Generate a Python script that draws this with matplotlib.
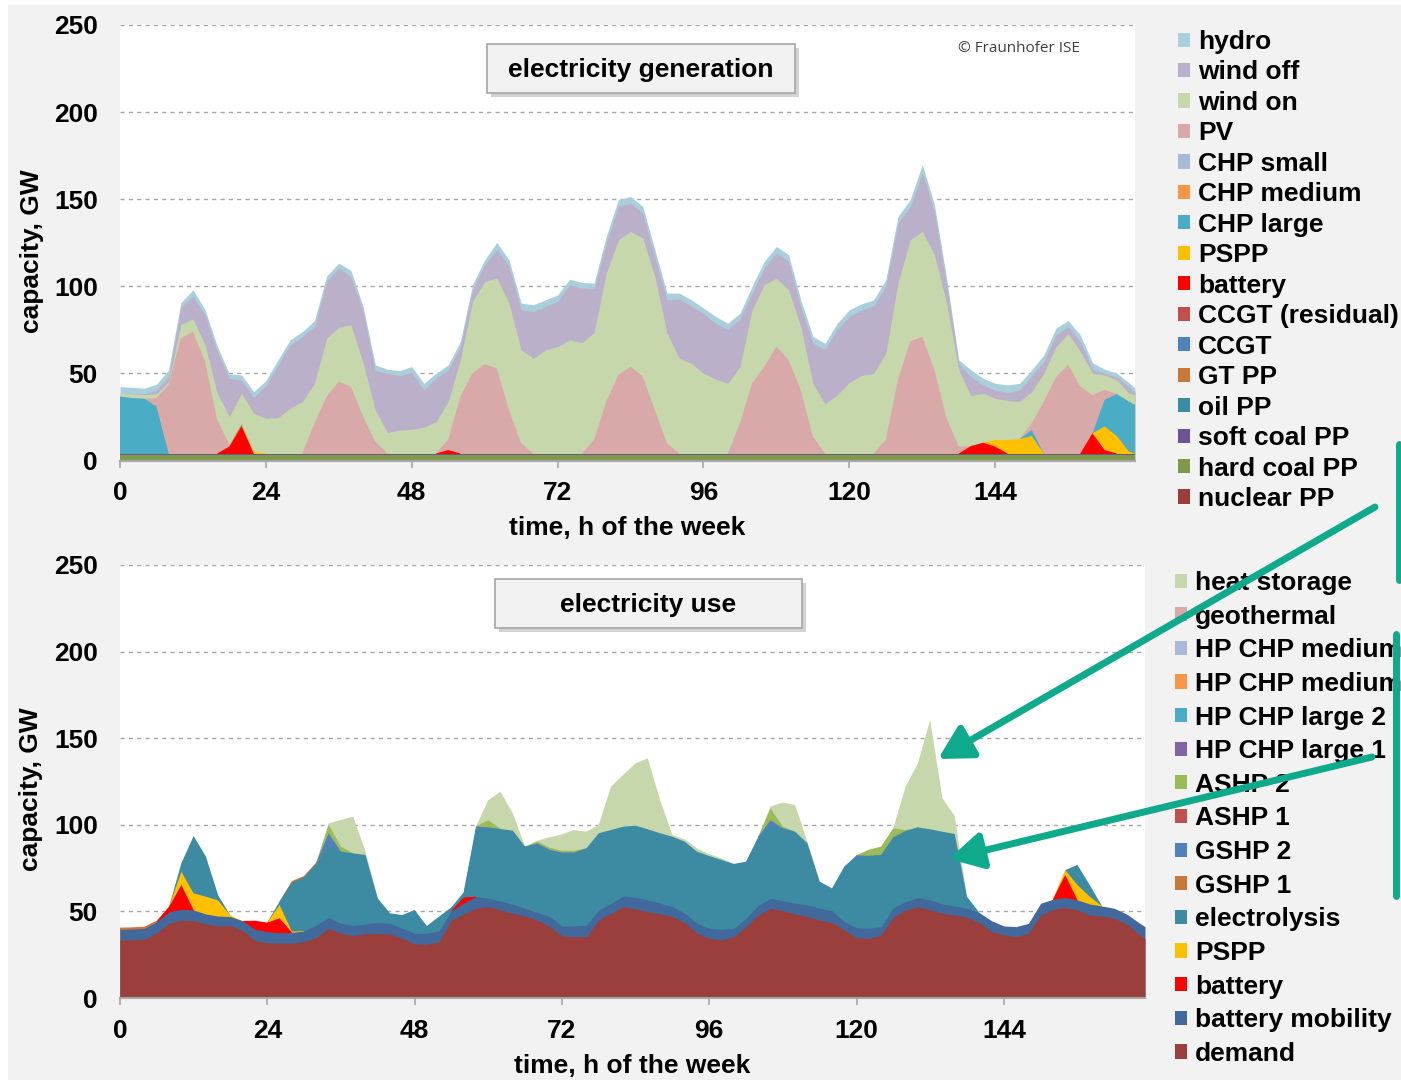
import numpy as np
import matplotlib.pyplot as plt
from matplotlib.patches import Patch, Rectangle, FancyArrowPatch
from matplotlib.lines import Line2D

plt.rcParams['font.family'] = ['Liberation Sans', 'DejaVu Sans']

W, H = 1401, 1080

# hour of the week (2 h steps, last point at hour 167)
hours = np.array(list(range(0, 168, 2)) + [167])

# ---- electricity generation, GW ----
hard_coal_gw = 3.0
soft_coal_gw = 1.0

pv = [0, 0, 0, 4.8, 39.4, 66, 70, 52.8, 19.3, 1,
      0, 0, 0, 0, 0, 0, 17.4, 32.7, 41.3, 38.4,
      21.2, 6.8, 0, 0, 0, 0, 0, 6, 32.7, 46.1,
      51.3, 49, 25, 5.9, 0, 0, 0, 0, 0, 7.8,
      29.8, 45.1, 49.9, 44.2, 25, 5.9, 0, 0, 0, 0,
      0, 17.4, 40.3, 49.9, 61.4, 53.8, 36.5, 9.7, 0, 0,
      0, 0, 0, 7.8, 42.3, 64.3, 67.2, 48, 20.2, 4,
      0, 0, 0, 0, 0, 3.9, 29.8, 43.8, 50.9, 38.4,
      22, 5.7, 0, 0, 0]

wind_on = [1.9, 2.3, 2.3, 2.5, 1.9, 8, 7.3, 9.6, 15.3, 16.2,
           17.8, 22.1, 20.2, 20.6, 26, 29.8, 22.9, 33.5, 31.2, 35.5,
           30.7, 18.2, 12, 13.5, 13.9, 15.1, 18.3, 21.8, 21.1, 41.2,
           47.4, 51.7, 61.3, 53.6, 54.7, 59.5, 61.4, 65.3, 63.7, 61.7,
           73.8, 77.6, 77.6, 79.5, 76.6, 63.2, 54.7, 51.8, 46.1, 42.7,
           40.3, 32.5, 42.2, 47, 39.3, 40.2, 36.4, 30.6, 28.5, 33.6,
           40.9, 44.8, 46.1, 49.8, 55.5, 58.4, 60.3, 66.1, 66.1, 44,
           28.8, 28.4, 23.9, 22.6, 21.6, 18.1, 16.3, 17.6, 17.8, 20.2,
           12.5, 8.6, 8.1, 4.8, 5.7]

wind_off = [0, 0, 0.5, 2, 2.9, 10, 12.9, 17.2, 24, 22,
            7.3, 9.2, 18.6, 30.3, 36.4, 37.4, 32.6, 32.6, 33.9, 27.7,
            29.6, 22.6, 34.1, 31.1, 32.6, 21.4, 24.9, 18.2, 7.6, 6.7,
            9.6, 16.3, 21.1, 23, 26.8, 24.9, 25.9, 31.6, 31.3, 24.9,
            17.2, 19.2, 16.3, 14.3, 11.5, 19.1, 33.9, 33, 34.1, 32.1,
            31.1, 27.2, 9.6, 9.5, 14.4, 16.3, 11.5, 23, 31.4, 37.4,
            37.8, 37.7, 38.7, 38.3, 34.5, 19, 33.6, 24.9, 10.6, 3.5,
            11.1, 4.8, 4.8, 4.6, 6.7, 9.1, 6.7, 6.7, 4.2, 5.7,
            2.3, 1, 1.5, 3.8, 1.5]

hydro = [3.8, 3.8, 3.2, 3.5, 3.8, 2.5, 3.8, 2.9, 3, 2.5,
         3.2, 3.2, 3.1, 2.9, 2.9, 2.8, 3.5, 3.2, 2.9, 3.5,
         2.9, 3.3, 2.3, 3, 3.4, 3.8, 2.9, 2.9, 2.9, 2.9,
         2.9, 4.2, 3.8, 3.8, 3.9, 3.8, 3.8, 3.2, 3.2, 3.4,
         3.8, 3.8, 3.8, 3.9, 3.9, 3.9, 3.5, 3.4, 3.3, 3.9,
         3.4, 3.5, 3.9, 3.9, 3.8, 3.8, 3.8, 3.9, 3.4, 3.8,
         3.8, 3.4, 3.4, 3.8, 3.8, 3.9, 4.8, 3.8, 3.8, 2.3,
         3.8, 3.8, 3.8, 4.4, 3.8, 3.4, 3.8, 3.9, 3.5, 3.8,
         3.8, 2.3, 2.3, 2.3, 2.4]

# short events, hour: GW
chp_large = {0: 32.7, 2: 31.9, 4: 31.5, 6: 27, 20: 0.5, 150: 3.4,
             162: 15.3, 164: 24.1, 166: 28.7, 167: 27.9}
pspp_gen = {20: 0.5, 22: 1, 144: 3.8, 146: 7.8, 148: 8.2, 150: 10.1,
            162: 13.5, 164: 10.1, 166: 1.1}
battery_gen = {18: 4, 20: 15.8, 54: 2, 140: 4.3, 142: 6.2, 144: 4,
               160: 11.6, 162: 2}

# ---- electricity use, GW ----
demand = [33.5, 33.5, 33.9, 37.7, 43.1, 45, 44.6, 42.7, 41.6, 41.8,
          38.9, 33.1, 31.9, 31.6, 31.6, 32.5, 35, 40.2, 37.3, 36,
          37, 37.3, 37, 34.4, 31.2, 31, 32.5, 45, 48.5, 51.8,
          52.7, 50.8, 48.9, 47.3, 45, 41.2, 35.8, 35.4, 35.4, 45,
          48.9, 52.7, 51.4, 49.8, 48.5, 47, 43.5, 37.3, 34.4, 33.5,
          35.4, 41.2, 47.9, 51.8, 50.4, 48.5, 47, 45, 43.5, 39.3,
          34.8, 34.4, 36.4, 46.6, 50.8, 52.7, 50.8, 48.9, 47.9, 46.6,
          43.5, 38.3, 36.4, 35.4, 37.3, 47.9, 51.2, 52.3, 50.8, 47.9,
          47.3, 46, 42.7, 36.8, 34.4]

battery_mobility = [6.1, 6.3, 6.3, 6.4, 6.7, 6.2, 6.2, 5.8, 5.7, 5.2,
                    5.6, 6.5, 6.4, 6.1, 6.3, 6.2, 7.1, 6.2, 5.8, 6,
                    5.7, 6.2, 6.1, 5.8, 6.1, 6.3, 6.4, 5.4, 6.5, 6.7,
                    5, 5.2, 5.2, 4.5, 4.3, 5.8, 5.8, 6.2, 6.7, 5.8,
                    5.8, 6.2, 6.7, 6.8, 6.2, 5.7, 5.4, 5.8, 5.8, 6.1,
                    4.8, 4.8, 5.8, 5.7, 5.8, 6.2, 6.7, 6.8, 6.9, 4.8,
                    5.8, 5.8, 4.8, 5.7, 4.8, 5.4, 5.8, 5.4, 5.2, 5.2,
                    5.8, 6.3, 5.2, 5.8, 5.8, 6.8, 5.8, 5.8, 5.8, 6.4,
                    5.8, 5.8, 5.8, 6.7, 6.8]

electrolysis = [0, 0, 0, 0, 0, 4.9, 33.1, 23.1, 3, 0,
                0, 0, 0, 2, 28.3, 31, 35.7, 41, 41.4, 41.5,
                39.9, 14, 5.8, 7.7, 13.5, 4.3, 8.1, 2, 3, 38.5,
                40.8, 41.6, 42.5, 35.6, 39, 38.1, 41.9, 41.9, 44.3, 44.3,
                42.3, 40, 41.4, 40.8, 40.4, 40.4, 41.4, 41.4, 41.8, 40.1,
                37.2, 32.7, 39.4, 41.4, 41.8, 41.3, 35.6, 15.4, 12.9, 31.7,
                40.6, 41.4, 41.4, 40.5, 40.8, 40.4, 40.8, 41.7, 41.6, 6.7,
                0, 0, 0, 0, 0, 0, 0, 0, 11.6, 6.7,
                0, 0, 0, 0, 0]

battery_use = {8: 2.9, 10: 14, 22: 5, 24: 5.2, 26: 8.3, 56: 3, 154: 12.9}
pspp_use = {10: 7.7, 12: 9.6, 14: 10, 16: 9, 18: 0.5, 26: 7.7, 28: 0.5,
            154: 2.9, 156: 8.6, 158: 4.2}
gshp1 = {0: 1, 2: 1, 4: 1, 6: 0.6, 28: 0.8, 30: 0.8, 32: 0.5}
gshp2 = {34: 7.7, 58: 2, 68: 1, 70: 0.5, 72: 0.5, 74: 0.5, 106: 3.8,
         120: 1.2, 122: 0.5}
ashp2 = {34: 4.8, 36: 2.9, 60: 4.2, 68: 1, 70: 1.2, 72: 1, 74: 1, 106: 6.7,
         108: 1, 122: 3.5, 124: 4.8, 126: 5.2, 128: 0.5}
heat_storage = {34: 0.9, 36: 15.4, 38: 21.2, 40: 2, 60: 11.5, 62: 21.5,
                64: 10, 68: 0.5, 70: 6, 72: 9.5, 74: 12, 76: 9.6, 78: 4.8,
                80: 25, 82: 29.9, 84: 36, 86: 41, 88: 19.2, 90: 1, 92: 1.3,
                94: 1.9, 96: 1.1, 98: 0.9, 106: 1.3, 108: 13.8, 110: 15.4,
                112: 1, 128: 25.1, 130: 37, 132: 63.1, 134: 19.3, 136: 10.4}


def series(values):
    if isinstance(values, dict):
        return np.array([values.get(h, 0.0) for h in hours], dtype=float)
    return np.asarray(values, dtype=float)


none = {}

# stacking order: bottom first
gen_layers = [
    ('nuclear PP', none, '#9B3E3B'),
    ('hard coal PP', {h: hard_coal_gw for h in hours}, '#7F9B4A'),
    ('soft coal PP', {h: soft_coal_gw for h in hours}, '#6D5391'),
    ('oil PP', none, '#3A8CA3'),
    ('GT PP', none, '#C8793A'),
    ('CCGT', none, '#4F81BD'),
    ('CCGT (residual)', none, '#C0504D'),
    ('battery', battery_gen, '#FF0000'),
    ('PSPP', pspp_gen, '#FFC000'),
    ('CHP large', chp_large, '#4BACC6'),
    ('CHP medium', none, '#F79646'),
    ('CHP small', none, '#A8BAD8'),
    ('PV', pv, '#D9A9A9'),
    ('wind on', wind_on, '#C6D7AC'),
    ('wind off', wind_off, '#BAB0CA'),
    ('hydro', hydro, '#A9CFDC'),
]

use_layers = [
    ('demand', demand, '#9A3F3C'),
    ('battery mobility', battery_mobility, '#41699B'),
    ('battery', battery_use, '#FF0000'),
    ('PSPP', pspp_use, '#FFC000'),
    ('electrolysis', electrolysis, '#3C8BA2'),
    ('GSHP 1', gshp1, '#C8793A'),
    ('GSHP 2', gshp2, '#4F81BD'),
    ('ASHP 1', none, '#C0504D'),
    ('ASHP 2', ashp2, '#9BBB59'),
    ('HP CHP large 1', none, '#8064A2'),
    ('HP CHP large 2', none, '#4BACC6'),
    ('HP CHP medium 1', none, '#F79646'),
    ('HP CHP medium 2', none, '#A8BAD8'),
    ('geothermal', none, '#D9A9A9'),
    ('heat storage', heat_storage, '#C6D7AC'),
]

fig = plt.figure(figsize=(W / 100, H / 100), dpi=100, facecolor='#F2F2F2')
fig.patches.append(Rectangle((0, 0), 8 / W, 1, transform=fig.transFigure, fc='white', ec='none'))
fig.patches.append(Rectangle((0, 1 - 5 / H), 1, 5 / H, transform=fig.transFigure, fc='white', ec='none'))


def px_axes(x0, y0, x1, y1):
    return fig.add_axes([x0 / W, 1 - y1 / H, (x1 - x0) / W, (y1 - y0) / H])


def draw_stack(ax, layers):
    vals = [series(v) for _, v, _ in layers]
    tops = np.cumsum(vals, axis=0)
    # paint from the top layer down, each from zero, so no seams show
    for v, top, (_, _, color) in reversed(list(zip(vals, tops, layers))):
        on = v > 0
        on = on | np.r_[on[1:], False] | np.r_[False, on[:-1]]
        if on.any():
            ax.fill_between(hours, 0, top, where=on, color=color, lw=0)


def style_axes(ax, ylab_y):
    ax.set_xlim(0, 167)
    ax.set_ylim(0, 250)
    ax.set_xticks(range(0, 145, 24))
    ax.set_yticks(range(0, 251, 50))
    ax.set_axisbelow(True)
    ax.yaxis.grid(True, color='#A6A6A6', linestyle=(0, (3, 3)), lw=1)
    for side in ['left', 'right', 'top']:
        ax.spines[side].set_visible(False)
    ax.spines['bottom'].set_color('#A6A6A6')
    ax.spines['bottom'].set_linewidth(1.5)
    ax.tick_params(axis='y', length=0, pad=16, labelsize=19)
    ax.tick_params(axis='x', length=5, width=1.2, color='#A6A6A6', pad=10, labelsize=19)
    for lab in ax.get_xticklabels() + ax.get_yticklabels():
        lab.set_fontweight('bold')
    ax.set_xlabel('time, h of the week', fontsize=19, fontweight='bold', labelpad=8)
    ax.set_ylabel('capacity, GW', fontsize=19, fontweight='bold')
    ax.yaxis.set_label_coords(-0.075, ylab_y)


def add_legend(layers, x, y_top, spacing):
    handles = [Patch(facecolor=c, edgecolor='none', label=n) for n, _, c in reversed(layers)]
    fig.legend(handles=handles, loc='upper left', bbox_to_anchor=(x / W, 1 - y_top / H),
               frameon=False, prop={'weight': 'bold', 'size': 19},
               handlelength=0.45, handleheight=0.45, handletextpad=0.3,
               labelspacing=spacing, borderpad=0, borderaxespad=0)


def title_box(text, x0, y0, x1, y1):
    fig.patches.append(Rectangle((x0 / W + 4 / W, 1 - (y1 + 4) / H), (x1 - x0) / W, (y1 - y0) / H,
                                 transform=fig.transFigure, fc='#BFBFBF', ec='none', alpha=0.7))
    fig.patches.append(Rectangle((x0 / W, 1 - y1 / H), (x1 - x0) / W, (y1 - y0) / H,
                                 transform=fig.transFigure, fc='#F2F2F2', ec='#A6A6A6', lw=1.2))
    fig.text((x0 + x1) / 2 / W, 1 - (y0 + y1 + 3) / 2 / H, text, ha='center', va='center',
             fontsize=19, fontweight='bold')


ax1 = px_axes(120, 25, 1135, 460.5)
draw_stack(ax1, gen_layers)
style_axes(ax1, 0.48)

ax2 = px_axes(120, 565, 1145, 998)
draw_stack(ax2, use_layers)
style_axes(ax2, 0.483)

title_box('electricity generation', 487, 44, 795, 93)
title_box('electricity use', 495, 579, 802, 628)
fig.text(958 / W, 1 - 48 / H, '\u00a9 Fraunhofer ISE', ha='left', va='center',
         fontsize=11, color='#404040', family=['Open Sans', 'DejaVu Sans'])

add_legend(gen_layers, 1178, 30, 0.245)
add_legend(use_layers, 1175, 571, 0.365)

teal = '#0FA98C'
for (xa, ya), (xb, yb) in [((1375, 507), (938, 759)), ((1372, 757), (949, 859))]:
    fig.add_artist(FancyArrowPatch((xa / W, 1 - ya / H), (xb / W, 1 - yb / H),
                                   transform=fig.transFigure,
                                   arrowstyle='-|>,head_length=1.0,head_width=0.55',
                                   mutation_scale=20, lw=5, color=teal,
                                   shrinkA=0, shrinkB=0, zorder=10))
for x, ya, yb in [(1399, 444, 580), (1396, 634, 896)]:
    fig.add_artist(Line2D([x / W, x / W], [1 - ya / H, 1 - yb / H], transform=fig.transFigure,
                          lw=5, color=teal, solid_capstyle='round', zorder=10))

fig.savefig('out.png', dpi=100, facecolor=fig.get_facecolor())
